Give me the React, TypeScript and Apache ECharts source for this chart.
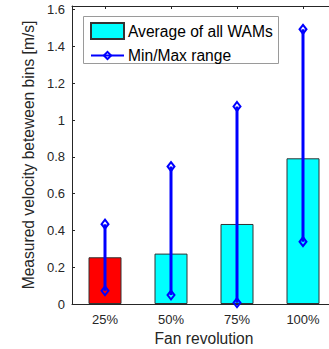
import React, { useEffect, useRef } from "react";
import * as echarts from "echarts";

const categories = ["25%", "50%", "75%", "100%"];
const averages = [0.254, 0.274, 0.435, 0.792];
const minValues = [0.072, 0.049, 0.007, 0.339];
const maxValues = [0.434, 0.747, 1.074, 1.493];
const yTicks = [0, 0.2, 0.4, 0.6, 0.8, 1, 1.2, 1.4, 1.6];

const FONT = "'Liberation Sans', Arial, Helvetica, sans-serif";
const AX = "#262626";

export default function App() {
  const ref = useRef<HTMLDivElement>(null);
  useEffect(() => {
    if (!ref.current) return;
    const chart = echarts.init(ref.current, undefined, { renderer: "svg" });
    const rangeData: any[] = [];
    categories.forEach((c, i) => {
      rangeData.push([c, minValues[i]]);
      rangeData.push([c, maxValues[i]]);
      if (i < categories.length - 1) rangeData.push([c, "-"]);
    });
    const legendText = { fontFamily: FONT, fontSize: 15.6, color: "#000", padding: [0, 0, 0, -1] };
    chart.setOption({
      animation: false,
      textStyle: { fontFamily: FONT },
      grid: { left: 72, right: -7, top: 6, bottom: 45, outerBoundsMode: "none", containLabel: false },
      graphic: [
        {
          type: "rect",
          left: 83,
          top: 16,
          z: 50,
          shape: { width: 195, height: 47 },
          style: { fill: "#fff", stroke: "#9a9a9a", lineWidth: 1 },
        },
      ],
      legend: [
        {
          left: 90,
          top: 22,
          padding: 0,
          z: 60,
          itemWidth: 33,
          itemHeight: 16,
          textStyle: legendText,
          data: [{ name: "Average of all WAMs", icon: "rect" }],
        },
        {
          left: 90,
          top: 47.5,
          padding: 0,
          z: 60,
          itemWidth: 33,
          itemHeight: 9,
          textStyle: legendText,
          data: [{ name: "Min/Max range" }],
        },
      ],
      xAxis: [
        {
          type: "category",
          data: categories,
          position: "bottom",
          name: "Fan revolution",
          nameLocation: "middle",
          nameGap: 26,
          nameTextStyle: { fontFamily: FONT, fontSize: 15.6, color: AX },
          axisLine: { show: true, lineStyle: { color: AX, width: 1 } },
          axisTick: { show: true, inside: true, alignWithLabel: true, length: 3, lineStyle: { color: AX } },
          axisLabel: { fontFamily: FONT, fontSize: 13, color: AX, margin: 9 },
        },
        {
          type: "category",
          data: categories,
          position: "top",
          axisLine: { show: true, lineStyle: { color: AX, width: 1 } },
          axisTick: { show: true, inside: true, alignWithLabel: true, length: 3, lineStyle: { color: AX } },
          axisLabel: { show: false },
        },
      ],
      yAxis: {
        type: "value",
        min: 0,
        max: 1.62,
        interval: 0.2,
        name: "Measured velocity beteween bins [m/s]",
        nameLocation: "middle",
        nameGap: 27,
        nameTextStyle: { fontFamily: FONT, fontSize: 15.6, color: AX },
        splitLine: { show: false },
        axisLine: { show: true, lineStyle: { color: AX, width: 1 } },
        axisTick: { show: true, inside: true, length: 3, lineStyle: { color: AX } },
        axisLabel: {
          fontFamily: FONT,
          fontSize: 13,
          color: AX,
          margin: 7,
          showMaxLabel: false,
          formatter: (v: number) => {
            const t = yTicks.find((k) => Math.abs(k - v) < 1e-6);
            return t === undefined ? "" : String(t);
          },
        },
      },
      series: [
        {
          name: "Average of all WAMs",
          type: "bar",
          barWidth: "50%",
          data: averages.map((v, i) =>
            i === 0 ? { value: v, itemStyle: { color: "#ff0000" } } : v
          ),
          itemStyle: { color: "#00ffff", borderColor: "#333333", borderWidth: 1 },
        },
        {
          name: "Min/Max range",
          type: "line",
          data: rangeData,
          connectNulls: false,
          symbol: "diamond",
          symbolSize: [7, 9],
          showSymbol: true,
          lineStyle: { color: "#0000ff", width: 3 },
          itemStyle: { color: "rgba(255,255,255,0)", borderColor: "#0000ff", borderWidth: 2 },
          z: 5,
        },
      ],
    });
    return () => chart.dispose();
  }, []);
  return (
    <div
      ref={ref}
      style={{ position: "fixed", left: 0, top: 0, width: 329, height: 349, background: "#fff" }}
    />
  );
}
